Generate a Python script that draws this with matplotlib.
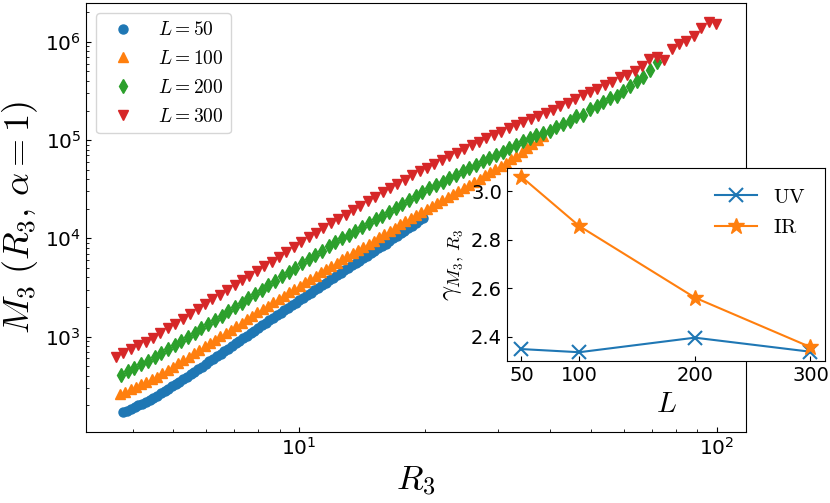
import numpy as np
import matplotlib
matplotlib.use("Agg")
import matplotlib.pyplot as plt

plt.rcParams['mathtext.fontset'] = 'cm'

# L = 50
r3_50 = [3.799, 3.878, 3.959, 4.042, 4.126, 4.212, 4.300, 4.390, 4.481, 4.575,
         4.670, 4.768, 4.867, 4.969, 5.073, 5.178, 5.287, 5.397, 5.509, 5.624,
         5.742, 5.862, 5.984, 6.109, 6.236, 6.366, 6.499, 6.635, 6.774, 6.915,
         7.059, 7.207, 7.357, 7.511, 7.667, 7.827, 7.991, 8.158, 8.328, 8.502,
         8.679, 8.860, 9.045, 9.234, 9.427, 9.623, 9.824, 10.03, 10.24, 10.45,
         10.67, 10.89, 11.12, 11.35, 11.59, 11.83, 12.08, 12.33, 12.59, 12.85,
         13.12, 13.39, 13.67, 13.96, 14.25, 14.55, 14.85, 15.16, 15.48, 15.80,
         16.13, 16.47, 16.81, 17.16, 17.52, 17.88, 18.26, 18.64, 19.03, 19.42, 19.83]
m3_50 = [168.6, 175.7, 183.0, 190.7, 198.7, 207.7, 217.1, 227.5, 238.5, 249.9,
         264.4, 279.0, 294.4, 310.7, 328.0, 346.1, 367.0, 389.9, 413.6, 438.5,
         466.1, 494.1, 525.1, 558.1, 593.3, 630.4, 669.9, 710.4, 754.9, 802.4,
         852.6, 906.5, 963.2, 1024, 1085, 1151, 1223, 1297, 1375, 1458,
         1546, 1639, 1738, 1843, 1954, 2072, 2202, 2335, 2475, 2625,
         2783, 2951, 3129, 3318, 3518, 3730, 3955, 4194, 4446, 4714,
         4988, 5288, 5594, 5933, 6275, 6637, 7038, 7443, 7874, 8350,
         8834, 9387, 9977, 10600, 11240, 11950, 12700, 13470, 14310, 15180, 16130]

# L = 100
r3_100 = [3.731, 3.841, 3.955, 4.072, 4.192, 4.316, 4.444, 4.575, 4.711, 4.850,
          4.993, 5.141, 5.293, 5.449, 5.610, 5.776, 5.947, 6.123, 6.304, 6.491,
          6.682, 6.880, 7.083, 7.293, 7.509, 7.731, 7.959, 8.195, 8.437, 8.686,
          8.943, 9.208, 9.480, 9.760, 10.05, 10.35, 10.65, 10.97, 11.29, 11.62,
          11.97, 12.32, 12.69, 13.06, 13.45, 13.85, 14.26, 14.68, 15.11, 15.56,
          16.02, 16.49, 16.98, 17.48, 18.00, 18.53, 19.08, 19.64, 20.22, 20.82,
          21.44, 22.07, 22.72, 23.40, 24.09, 24.80, 25.53, 26.29, 27.07, 27.87,
          28.69, 29.54, 30.41, 31.31, 32.24, 33.19, 34.17, 35.18, 36.22, 37.29, 38.40]
m3_100 = [257.0, 272.5, 289.6, 307.2, 325.6, 345.2, 366.1, 391.8, 423.4, 457.4,
          495.2, 535.1, 579.4, 626.0, 677.8, 734.0, 794.9, 858.7, 930.0, 1005,
          1088, 1178, 1279, 1385, 1500, 1628, 1759, 1904, 2057, 2223,
          2402, 2601, 2816, 3043, 3295, 3560, 3855, 4164, 4510, 4871,
          5264, 5660, 6085, 6545, 7054, 7584, 8155, 8790, 9475, 10240,
          11060, 11920, 12850, 13850, 14890, 16020, 17220, 18510, 19910, 21460,
          23030, 24700, 26500, 28430, 30500, 32720, 35100, 37740, 40580, 43650,
          46810, 50470, 54270, 58340, 63480, 69070, 75490, 82520, 90850, 99770, 109600]

# L = 200
r3_200 = [3.752, 3.893, 4.039, 4.191, 4.349, 4.513, 4.683, 4.859, 5.042, 5.232,
          5.429, 5.633, 5.845, 6.065, 6.293, 6.530, 6.776, 7.031, 7.295, 7.569,
          7.854, 8.149, 8.455, 8.773, 9.103, 9.445, 9.800, 10.17, 10.55, 10.95,
          11.36, 11.79, 12.23, 12.69, 13.17, 13.66, 14.18, 14.71, 15.26, 15.84,
          16.43, 17.05, 17.69, 18.36, 19.05, 19.76, 20.51, 21.28, 22.08, 22.91,
          23.77, 24.66, 25.59, 26.55, 27.55, 28.59, 29.66, 30.78, 31.93, 33.14,
          34.38, 35.67, 37.02, 38.41, 39.85, 41.35, 42.91, 44.52, 46.20, 47.93,
          49.73, 51.61, 53.55, 55.56, 57.65, 59.82, 62.07, 64.40, 66.82, 69.34, 71.94]
m3_200 = [410.6, 445.7, 483.7, 525.1, 569.8, 617.2, 677.8, 744.3, 817.4, 900.0,
          988.3, 1093, 1209, 1334, 1479, 1632, 1809, 2000, 2213, 2453,
          2713, 3007, 3334, 3695, 4097, 4532, 5022, 5568, 6143, 6778,
          7478, 8253, 9085, 9954, 10900, 11920, 13030, 14240, 15610, 17060,
          18690, 20430, 22380, 24520, 26820, 29380, 32180, 34850, 37830, 40970,
          44360, 48160, 52150, 56200, 60720, 65610, 70700, 76380, 82310, 89400,
          96800, 104800, 113500, 118100, 124600, 135900, 146900, 155000, 174200, 181300,
          208700, 220200, 241800, 268200, 282900, 312900, 351800, 395700, 438500, 511700, 617200]

# L = 300
r3_300 = [3.649, 3.801, 3.960, 4.125, 4.297, 4.476, 4.662, 4.857, 5.059, 5.270,
          5.490, 5.719, 5.957, 6.205, 6.464, 6.733, 7.014, 7.306, 7.611, 7.928,
          8.258, 8.603, 8.961, 9.335, 9.724, 10.13, 10.55, 10.99, 11.45, 11.93,
          12.42, 12.94, 13.48, 14.04, 14.63, 15.24, 15.87, 16.53, 17.22, 17.94,
          18.69, 19.47, 20.28, 21.12, 22.00, 22.92, 23.88, 24.87, 25.91, 26.99,
          28.11, 29.28, 30.50, 31.78, 33.10, 34.48, 35.92, 37.42, 38.98, 40.60,
          42.29, 44.05, 45.89, 47.80, 49.79, 51.87, 54.03, 56.28, 58.63, 61.07,
          63.62, 66.27, 69.03, 71.91, 74.90, 78.02, 81.28, 84.66, 88.19, 91.87,
          95.70, 99.69]
m3_300 = [626, 683, 744, 812, 888, 968, 1083, 1212, 1356, 1517,
          1702, 1904, 2131, 2385, 2668, 2986, 3341, 3730, 4164, 4649,
          5190, 5794, 6469, 7221, 8080, 9193, 10240, 11400, 12700, 14220,
          15750, 17420, 19320, 21360, 23740, 26440, 29440, 32720, 36020, 39650,
          43650, 48160, 52510, 57260, 62450, 68110, 74090, 80990, 88340, 96320,
          104100, 112400, 121400, 131200, 141800, 152400, 164300, 175000, 188700, 203900,
          220200, 238500, 261900, 284900, 305800, 333400, 360200, 389900, 438500, 462800,
          508200, 561900, 673100, 694000, 657500, 844900, 949700, 1026000, 1135000, 1382000,
          1575000, 1517000]

# inset: exponents vs system size
sizes = [50, 100, 200, 300]
gamma_uv = [2.349, 2.336, 2.396, 2.338]
gamma_ir = [3.059, 2.856, 2.561, 2.357]

series = [(r3_50, m3_50, 'o', 6.5, 50), (r3_100, m3_100, '^', 7, 100),
          (r3_200, m3_200, 'd', 7, 200), (r3_300, m3_300, 'v', 7, 300)]

if __name__ == "__main__":
    fig = plt.figure(figsize=(8.3, 5.03), dpi=100)
    ax = fig.add_axes([0.1036, 0.1412, 0.7952, 0.8529])
    for xs, ys, mk, size, L in series:
        ax.plot(xs, ys, mk, ms=size, ls='', label=r'$L=%d$' % L)
    ax.set_xscale('log')
    ax.set_yscale('log')
    ax.tick_params(which='both', direction='in', labelsize=14.5)
    ax.set_xlabel(r'$R_3$', fontsize=25)
    ax.set_ylabel(r'$M_3\ (R_3,\,\alpha=1)$', fontsize=26)
    ax.legend(loc='upper left', fontsize=14, numpoints=1)

    ins = fig.add_axes([0.6108, 0.2823, 0.3831, 0.3837])
    ins.plot(sizes, gamma_uv, marker='x', ms=10, mew=1.5, label=r'$\mathrm{UV}$')
    ins.plot(sizes, gamma_ir, marker='*', ms=12, label=r'$\mathrm{IR}$')
    ins.set_xticks(sizes)
    ins.tick_params(direction='in', labelsize=14)
    ins.set_xlabel(r'$L$', fontsize=21)
    ins.set_ylabel(r'$\gamma_{M_3,\,R_3}$', fontsize=19)
    ins.legend(loc='upper right', frameon=False, fontsize=15)

    fig.savefig('out.png', dpi=100)
